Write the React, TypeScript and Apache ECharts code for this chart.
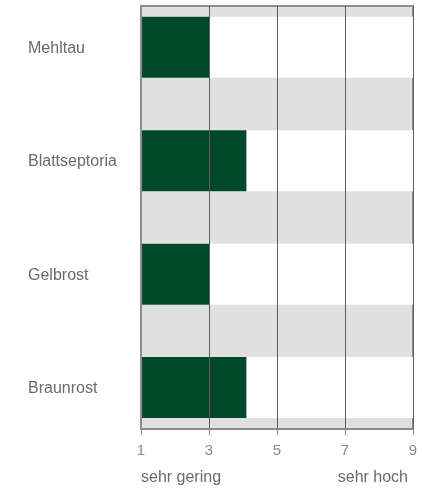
import React, { useEffect, useRef } from "react";
import * as echarts from "echarts";

const categories = ["Mehltau", "Blattseptoria", "Gelbrost", "Braunrost"];
const values = [3, 4.1, 3, 4.1];
const scaleMin = 1;
const scaleMax = 9;
const scaleStep = 2;
const lowLabel = "sehr gering";
const highLabel = "sehr hoch";

export default function App() {
  const ref = useRef<HTMLDivElement>(null);
  useEffect(() => {
    if (!ref.current) return;
    const chart = echarts.init(ref.current, null, { renderer: "svg" });
    const font = "'Liberation Sans', Arial, Helvetica, sans-serif";
    chart.setOption({
      animation: false,
      grid: [
        {
          left: 141,
          top: 6,
          width: 272,
          height: 423,
          show: true,
          backgroundColor: "#e0e0e0",
          borderColor: "#8e8e8e",
          borderWidth: 2,
          z: 0,
        },
        {
          left: 141,
          top: 47.3,
          width: 272,
          height: 340.3,
        },
      ],
      xAxis: [
        {
          gridIndex: 0,
          type: "value",
          min: scaleMin,
          max: scaleMax,
          interval: scaleStep,
          z: 10,
          axisLine: { show: true, lineStyle: { color: "#888", width: 1 } },
          axisTick: { show: true, length: 6, lineStyle: { color: "#888" } },
          axisLabel: { margin: 13, fontSize: 15, color: "#8a8a8a", fontFamily: font },
          splitLine: {
            show: true,
            showMinLine: false,
            lineStyle: { color: "#5c5c5c", width: 1 },
          },
        },
        {
          gridIndex: 1,
          type: "value",
          min: scaleMin,
          max: scaleMax,
          startValue: scaleMin,
          show: false,
          splitLine: { show: false },
        },
      ],
      yAxis: [
        {
          gridIndex: 0,
          type: "value",
          show: true,
          z: 10,
          axisLine: { show: true, lineStyle: { color: "#8e8e8e", width: 2 } },
          axisTick: { show: false },
          axisLabel: { show: false },
          splitLine: { show: false },
        },
        {
          gridIndex: 1,
          type: "category",
          data: categories,
          inverse: true,
          boundaryGap: false,
          axisLine: { show: false },
          axisTick: { show: false },
          splitLine: { show: false },
          axisLabel: {
            align: "left",
            margin: 113,
            fontSize: 16,
            color: "#6a6a6a",
            fontFamily: font,
          },
        },
      ],
      series: [
        {
          type: "bar",
          xAxisIndex: 1,
          yAxisIndex: 1,
          data: values,
          barWidth: 61,
          clip: false,
          itemStyle: { color: "#02492b" },
          showBackground: true,
          backgroundStyle: { color: "#ffffff" },
          z: 2,
        },
      ],
      graphic: [
        {
          type: "text",
          left: 141,
          top: 468,
          style: { text: lowLabel, fontSize: 16, fill: "#6a6a6a", font: `16px ${font}` },
        },
        {
          type: "text",
          right: 14,
          top: 468,
          style: { text: highLabel, fontSize: 16, fill: "#6a6a6a", font: `16px ${font}` },
        },
      ],
    });
    return () => chart.dispose();
  }, []);
  return (
    <div
      ref={ref}
      style={{ position: "fixed", left: 0, top: 0, width: 422, height: 489 }}
    />
  );
}
